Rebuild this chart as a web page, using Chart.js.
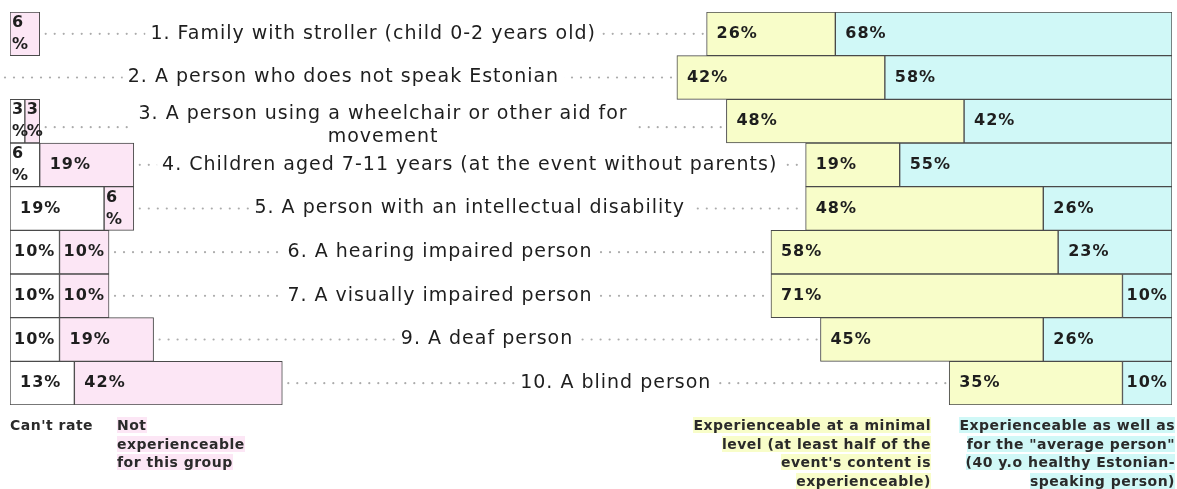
<!DOCTYPE html>
<html>
<head>
<meta charset="utf-8">
<script src="https://cdn.jsdelivr.net/npm/chart.js@4"></script>
<style>
  html, body { margin: 0; padding: 0; background: #fff; }
  #wrap { position: relative; width: 1177px; height: 489px; overflow: hidden; }
  #myChart { position: absolute; left: 0; top: 0; }
  .leg { position: absolute; font-family: 'DejaVu Sans', sans-serif; font-size: 14px; letter-spacing: 0.5px; line-height: 18.5px; color: #2a2a2a; font-weight: 600; white-space: nowrap; }
  .pk { background: #fce6f5; }
  .ye { background: #f8fdc9; }
  .cy { background: #d0f8f7; }
</style>
</head>
<body>
<div id="wrap">
  <canvas id="myChart" width="1177" height="489"></canvas>
  <div class="leg" style="left:10px; top:416px;">Can't rate</div>
  <div class="leg" style="left:117px; top:416px;"><span class="pk">Not</span><br><span class="pk">experienceable</span><br><span class="pk">for this group</span></div>
  <div class="leg" style="right:246px; top:416px; text-align:right;"><span class="ye">Experienceable at a minimal</span><br><span class="ye">level (at least half of the</span><br><span class="ye">event's content is</span><br><span class="ye">experienceable)</span></div>
  <div class="leg" style="right:2px; top:416px; text-align:right;"><span class="cy">Experienceable as well as</span><br><span class="cy">for the "average person"</span><br><span class="cy">(40 y.o healthy Estonian-</span><br><span class="cy">speaking person)</span></div>
</div>
<script>
// datos
const categorias = [
    '1. Family with stroller (child 0-2 years old)',
    '2. A person who does not speak Estonian',
    ['3. A person using a wheelchair or other aid for', 'movement'],
    '4. Children aged 7-11 years (at the event without parents)',
    '5. A person with an intellectual disability',
    '6. A hearing impaired person',
    '7. A visually impaired person',
    '9. A deaf person',
    '10. A blind person'
]
const cantRate = [0, 0, 3, 6, 19, 10, 10, 10, 13]
const notExp = [6, 0, 3, 19, 6, 10, 10, 19, 42]
const minimal = [26, 42, 48, 19, 48, 58, 71, 45, 35]
const average = [68, 58, 42, 55, 26, 23, 10, 26, 10]

const TOTAL = 234.7
const colores = ['#ffffff', '#fce6f5', '#f8fdc9', '#d0f8f7']
const borde = '#4a4a4a'
const fuenteTxt = "'DejaVu Sans', sans-serif"

function dataset(label, data, color) {
    return {
        label: label,
        data: data,
        backgroundColor: color,
        borderColor: borde,
        borderWidth: 1,
        borderSkipped: false,
        grouped: false,
        barPercentage: 1,
        categoryPercentage: 1
    }
}

const etiquetasBarras = {
    id: 'etiquetasBarras',
    afterDatasetsDraw(chart) {
        const ctx = chart.ctx
        ctx.save()
        ctx.font = '600 16px ' + fuenteTxt
        ctx.letterSpacing = '1px'
        ctx.fillStyle = '#1e1e1e'
        ctx.textBaseline = 'middle'
        ctx.textAlign = 'left'
        const fuentes = [cantRate, notExp, minimal, average]
        chart.data.datasets.forEach((ds, d) => {
            chart.getDatasetMeta(d).data.forEach((el, i) => {
                const v = fuentes[d][i]
                if (!v) return
                const izq = Math.min(el.x, el.base)
                const w = Math.abs(el.x - el.base)
                const txt = v + '%'
                const tw = ctx.measureText(txt).width
                if (tw + 6 <= w) {
                    const pad = Math.min(10, (w - tw) / 2)
                    ctx.fillText(txt, izq + pad, el.y)
                } else {
                    ctx.fillText(String(v), izq + 2, el.y - 11)
                    ctx.fillText('%', izq + 2, el.y + 11)
                }
            })
        })
        ctx.restore()
    }
}

const etiquetasCategorias = {
    id: 'etiquetasCategorias',
    beforeDatasetsDraw(chart) {
        const ctx = chart.ctx
        const xs = chart.scales.x
        const ys = chart.scales.y
        ctx.save()
        ctx.font = '19px ' + fuenteTxt
        ctx.letterSpacing = '1px'
        ctx.textBaseline = 'middle'
        ctx.textAlign = 'center'
        categorias.forEach((cat, i) => {
            const lineas = Array.isArray(cat) ? cat : [cat]
            const y = ys.getPixelForValue(i)
            const finIzq = xs.getPixelForValue(cantRate[i] + notExp[i])
            const iniDer = xs.getPixelForValue(TOTAL - minimal[i] - average[i])
            const cx = (finIzq + iniDer) / 2
            const yDots = lineas.length > 1 ? y + 6 : y
            const inicio = (cantRate[i] + notExp[i]) > 0 ? finIzq + 6 : 5
            ctx.fillStyle = '#ababab'
            for (let x = inicio; x < iniDer; x += 9) {
                ctx.beginPath()
                ctx.arc(x, yDots, 1.1, 0, Math.PI * 2)
                ctx.fill()
            }
            const tw = Math.max(...lineas.map(l => ctx.measureText(l).width))
            ctx.fillStyle = '#ffffff'
            ctx.fillRect(cx - tw / 2 - 5, y - 21, tw + 10, 42)
            ctx.fillStyle = '#1e1e1e'
            if (lineas.length > 1) {
                ctx.fillText(lineas[0], cx, y - 7)
                ctx.fillText(lineas[1], cx, y + 16)
            } else {
                ctx.fillText(lineas[0], cx, y)
            }
        })
        ctx.restore()
    }
}

const ctx = document.getElementById('myChart')
new Chart(ctx, {
    type: 'bar',
    data: {
        labels: categorias.map((c, i) => i),
        datasets: [
            dataset("Can't rate", cantRate.map(v => v ? [0, v] : null), colores[0]),
            dataset('Not experienceable for this group', notExp.map((v, i) => v ? [cantRate[i], cantRate[i] + v] : null), colores[1]),
            dataset('Experienceable at a minimal level', minimal.map((v, i) => [TOTAL - average[i] - v, TOTAL - average[i]]), colores[2]),
            dataset('Experienceable as well as for the "average person"', average.map(v => [TOTAL - v, TOTAL]), colores[3])
        ]
    },
    options: {
        indexAxis: 'y',
        responsive: false,
        animation: false,
        devicePixelRatio: 1,
        layout: {
            padding: { left: 10, right: 5, top: 12, bottom: 84 }
        },
        plugins: {
            legend: { display: false },
            tooltip: { enabled: false }
        },
        scales: {
            x: { display: false, min: 0, max: TOTAL },
            y: { display: false }
        }
    },
    plugins: [etiquetasCategorias, etiquetasBarras]
})
</script>
</body>
</html>
